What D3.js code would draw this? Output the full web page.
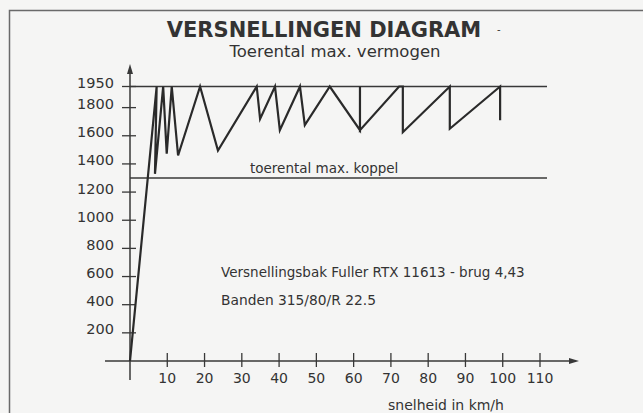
<!DOCTYPE html>
<html>
<head>
<meta charset="utf-8">
<script src="https://cdn.jsdelivr.net/npm/d3@7"></script>
<style>
  body { margin: 0; background: #f5f5f4; }
  svg { display: block; }
  text { font-family: "DejaVu Sans", sans-serif; fill: #333; }
</style>
</head>
<body>
<svg id="chart"></svg>
<script>
// gear diagram: engine speed (rpm) against road speed (km/h)
const yTicks = [200, 400, 600, 800, 1000, 1200, 1400, 1600, 1800, 1950];
const xTicks = [10, 20, 30, 40, 50, 60, 70, 80, 90, 100, 110];
const rpmMaxPower = 1950;
const rpmMaxTorque = 1300;

// sawtooth: [km/h, rpm]
const gearSpeeds = [0, 7.15, 6.7, 8.9, 9.85, 11.2, 12.9, 18.8, 23.6, 34, 34.9, 38.9, 40.2, 45.6, 46.9, 53.6, 61.7, 61.7, 61.7, 72.2, 73.2, 73.2, 85.8, 85.8, 99.3, 99.3];
const gearRpms = [0, 1950, 1330, 1950, 1473, 1950, 1460, 1950, 1495, 1950, 1720, 1950, 1640, 1950, 1675, 1950, 1640, 1950, 1640, 1950, 1950, 1625, 1950, 1650, 1950, 1710];

const width = 643;
const height = 413;
const svg = d3.select('#chart').attr('width', width).attr('height', height);

const x = d3.scaleLinear().domain([0, 110]).range([130, 540]);
const y = d3.scaleLinear().domain([0, 1950]).range([361, 86.5]);
const ink = '#383838';

// page frame
svg.append('path')
  .attr('d', `M9.5,${height} V10.5 H${width}`)
  .attr('fill', 'none')
  .attr('stroke', '#6a6a6a')
  .attr('stroke-width', 1.5);

// titles
svg.append('text')
  .attr('x', 324).attr('y', 37)
  .attr('text-anchor', 'middle')
  .style('font-size', '21px').style('font-weight', 'bold')
  .text('VERSNELLINGEN DIAGRAM');
svg.append('text')
  .attr('x', 497).attr('y', 33)
  .style('font-size', '10px')
  .text('-');
svg.append('text')
  .attr('x', 335).attr('y', 57)
  .attr('text-anchor', 'middle')
  .style('font-size', '16.5px')
  .text('Toerental max. vermogen');

// y axis
svg.append('line')
  .attr('x1', x(0)).attr('x2', x(0))
  .attr('y1', 380).attr('y2', 72)
  .attr('stroke', ink).attr('stroke-width', 1.5);
svg.append('path')
  .attr('d', `M${x(0)},64 L${x(0) - 3},74 L${x(0) + 3},74 Z`)
  .attr('fill', ink);

const yAxis = svg.append('g').attr('transform', `translate(${x(0)},0)`);
yAxis.selectAll('line.tick')
  .data(yTicks).enter().append('line')
  .attr('x1', -8).attr('x2', 6)
  .attr('y1', (d) => y(d)).attr('y2', (d) => y(d))
  .attr('stroke', ink).attr('stroke-width', 1.3);
yAxis.selectAll('text')
  .data(yTicks).enter().append('text')
  .attr('x', -16).attr('y', (d) => y(d) + 1.5)
  .attr('text-anchor', 'end')
  .style('font-size', '14.5px')
  .text((d) => d);

// x axis
svg.append('line')
  .attr('x1', 105).attr('x2', 572)
  .attr('y1', y(0)).attr('y2', y(0))
  .attr('stroke', ink).attr('stroke-width', 1.5);
svg.append('path')
  .attr('d', `M579,${y(0)} L569,${y(0) - 3} L569,${y(0) + 3} Z`)
  .attr('fill', ink);

const xAxis = svg.append('g').attr('transform', `translate(0,${y(0)})`);
xAxis.selectAll('line')
  .data(xTicks).enter().append('line')
  .attr('x1', (d) => x(d)).attr('x2', (d) => x(d))
  .attr('y1', -8).attr('y2', 6)
  .attr('stroke', ink).attr('stroke-width', 1.3);
xAxis.selectAll('text')
  .data(xTicks).enter().append('text')
  .attr('x', (d) => x(d)).attr('y', 22)
  .attr('text-anchor', 'middle')
  .style('font-size', '14px')
  .text((d) => d);

svg.append('text')
  .attr('x', 446).attr('y', 410)
  .attr('text-anchor', 'middle')
  .style('font-size', '14px')
  .text('snelheid in km/h');

// rpm limits
[rpmMaxPower, rpmMaxTorque].forEach((r) => {
  svg.append('line')
    .attr('x1', x(0)).attr('x2', 547)
    .attr('y1', y(r)).attr('y2', y(r))
    .attr('stroke', ink).attr('stroke-width', 1.6);
});
svg.append('text')
  .attr('x', 250).attr('y', y(rpmMaxTorque) - 5)
  .style('font-size', '13.5px')
  .text('toerental max. koppel');

// gears
const line = d3.line().x((d) => x(d[0])).y((d) => y(d[1]));
svg.append('path')
  .datum(d3.zip(gearSpeeds, gearRpms))
  .attr('d', line)
  .attr('fill', 'none')
  .attr('stroke', '#2a2a2a')
  .attr('stroke-width', 2.2)
  .attr('stroke-linejoin', 'miter');

// notes
svg.append('text')
  .attr('x', 221).attr('y', 277)
  .style('font-size', '13.5px')
  .text('Versnellingsbak Fuller RTX 11613 - brug 4,43');
svg.append('text')
  .attr('x', 221).attr('y', 305)
  .style('font-size', '13.8px')
  .text('Banden 315/80/R 22.5');
</script>
</body>
</html>
